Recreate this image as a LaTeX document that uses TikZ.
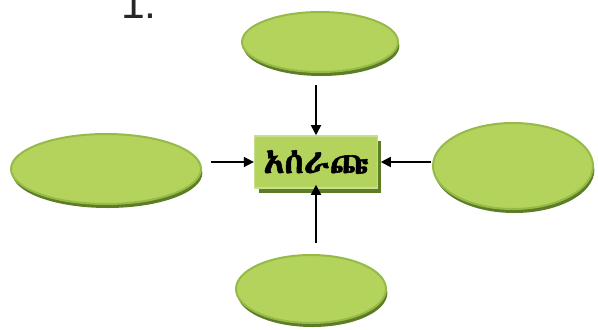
\documentclass[tikz,border=0pt]{standalone}
\usepackage{fontspec}
\usepackage{tikz}
\usetikzlibrary{arrows.meta,shapes.geometric,shadows}
\setmainfont{Liberation Sans}
\IfFontExistsTF{Abyssinica SIL}{\newfontfamily\ethfont[FakeBold=1.5]{Abyssinica SIL}}{%
 \IfFontExistsTF{Noto Sans Ethiopic}{\newfontfamily\ethfont[FakeBold=1.5]{Noto Sans Ethiopic}}{%
  \IfFontExistsTF{FreeSerif}{\newfontfamily\ethfont[FakeBold=1.5]{FreeSerif}}{%
   \newfontfamily\ethfont{DejaVu Sans}}}}
\definecolor{leafgreen}{RGB}{179,211,92}
\definecolor{rimgreen}{RGB}{150,186,72}
\definecolor{shadegreen}{RGB}{92,124,38}
\definecolor{lightrim}{RGB}{200,224,140}
\tikzset{
 blob/.style={ellipse,inner sep=0pt,fill=leafgreen,draw=rimgreen,line width=1.5pt,
  drop shadow={shadow xshift=1pt,shadow yshift=-3pt,fill=shadegreen,opacity=1}},
 hub/.style={rectangle,inner sep=0pt,fill=leafgreen,draw=lightrim,line width=1.2pt,
  minimum width=92pt,minimum height=39pt,
  drop shadow={shadow xshift=3pt,shadow yshift=-3.5pt,fill=shadegreen,opacity=1}},
 feed/.style={-{Triangle[length=7.5pt,width=7.5pt]},line width=1.3pt,black}
}
\begin{document}
\begin{tikzpicture}[x=0.75pt,y=0.75pt,yscale=-1,xscale=1]
\useasboundingbox (0,0) rectangle (598,329);

%Text: number
\node[anchor=base west,inner sep=0pt,font=\fontsize{32pt}{32pt}\selectfont,text=black!85] (num) at (121,18) {1.};

%Shape: Ellipses
\node[blob,minimum width=117pt,minimum height=45pt] (upper) at (320,42) {};
\node[blob,minimum width=142.5pt,minimum height=52.5pt] (west) at (106,169) {};
\node[blob,minimum width=120pt,minimum height=64.5pt] (east) at (513,166) {};
\node[blob,minimum width=112.5pt,minimum height=51pt] (lower) at (311,289) {};

%Shape: Rectangle
\node[hub,font=\ethfont\fontsize{26pt}{26pt}\selectfont] (box) at (316,162) {አሰራጩ};

%Arrows
\draw[feed,shorten <=9pt] (upper.south -| box.north) -- (box.north);
\draw[feed,shorten <=7pt] (west.east |- box.west) -- (box.west);
\draw[feed,shorten <=1pt] (east.west |- box.east) -- ([xshift=2pt]box.east);
\draw[feed,shorten <=8pt] (lower.north -| box.south) -- ([yshift=-3pt]box.south);

\end{tikzpicture}
\end{document}
